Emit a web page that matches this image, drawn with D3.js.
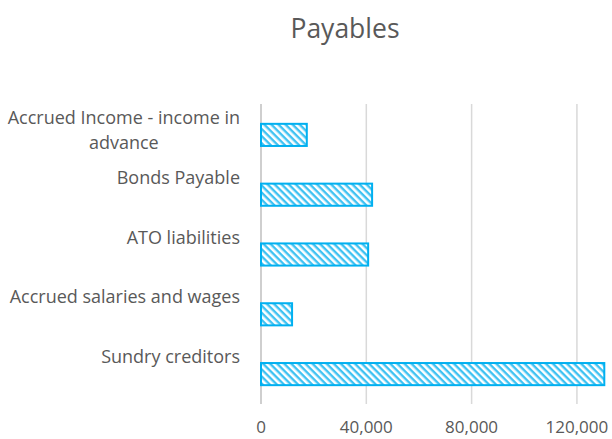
<!DOCTYPE html>
<html><head><meta charset="utf-8">
<script src="https://cdn.jsdelivr.net/npm/d3@7"></script>
<style>body{margin:0;background:#fff}</style>
</head><body>
<svg id="c" width="612" height="439"></svg>
<script>
const categories = [["Accrued Income - income in","advance"],["Bonds Payable"],["ATO liabilities"],["Accrued salaries and wages"],["Sundry creditors"]];
const values = [17400, 42200, 40700, 11800, 130400];
const ticks = [0, 40000, 80000, 120000];
const title = "Payables";

const svg = d3.select("#c");
const font = "'Open Sans', sans-serif";
const x = d3.scaleLinear().domain([0, 130400]).range([261, 604.3]);
const y = d3.scaleBand().domain(d3.range(categories.length)).range([105, 404]).paddingInner(0.63).paddingOuter(0.315);

const defs = svg.append("defs");
const pat = defs.append("pattern").attr("id","hatch").attr("patternUnits","userSpaceOnUse")
  .attr("width",5).attr("height",5).attr("patternTransform","rotate(45)");
pat.append("rect").attr("width",5).attr("height",5).attr("fill","#fff");
pat.append("rect").attr("x",0).attr("y",0).attr("width",5).attr("height",2.4).attr("fill","#3fc2f2");

svg.append("text").attr("x",345).attr("y",38).attr("text-anchor","middle")
  .attr("font-family",font).attr("font-size",26.5).attr("fill","#595959").text(title);

svg.append("g").selectAll("line").data(ticks).join("line")
  .attr("x1",d=>x(d)).attr("x2",d=>x(d)).attr("y1",104).attr("y2",404)
  .attr("stroke",d=>d===0?"#bfbfbf":"#d9d9d9").attr("stroke-width",1.5);

svg.append("g").selectAll("text").data(ticks).join("text")
  .attr("x",d=>x(d)).attr("y",433).attr("text-anchor","middle")
  .attr("font-family",font).attr("font-size",17).attr("fill","#595959")
  .text(d=>d3.format(",")(d));

svg.append("g").selectAll("rect").data(values).join("rect")
  .attr("x",x(0)).attr("y",(d,i)=>y(i)).attr("height",y.bandwidth())
  .attr("width",d=>x(d)-x(0)).attr("fill","url(#hatch)")
  .attr("stroke","#00b0f0").attr("stroke-width",2);

const lab = svg.append("g");
categories.forEach((lines,i)=>{
  const cy = y(i)+y.bandwidth()/2;
  const t = lab.append("text").attr("text-anchor","middle").attr("font-family",font)
    .attr("font-size",18).attr("fill","#595959");
  const spans = lines.map((l,j)=>t.append("tspan").attr("y",cy-17+6+j*25).text(l));
  const w = d3.max(spans, s=>s.node().getComputedTextLength());
  spans.forEach(s=>s.attr("x",240 - w/2));
});
</script>
</body></html>
